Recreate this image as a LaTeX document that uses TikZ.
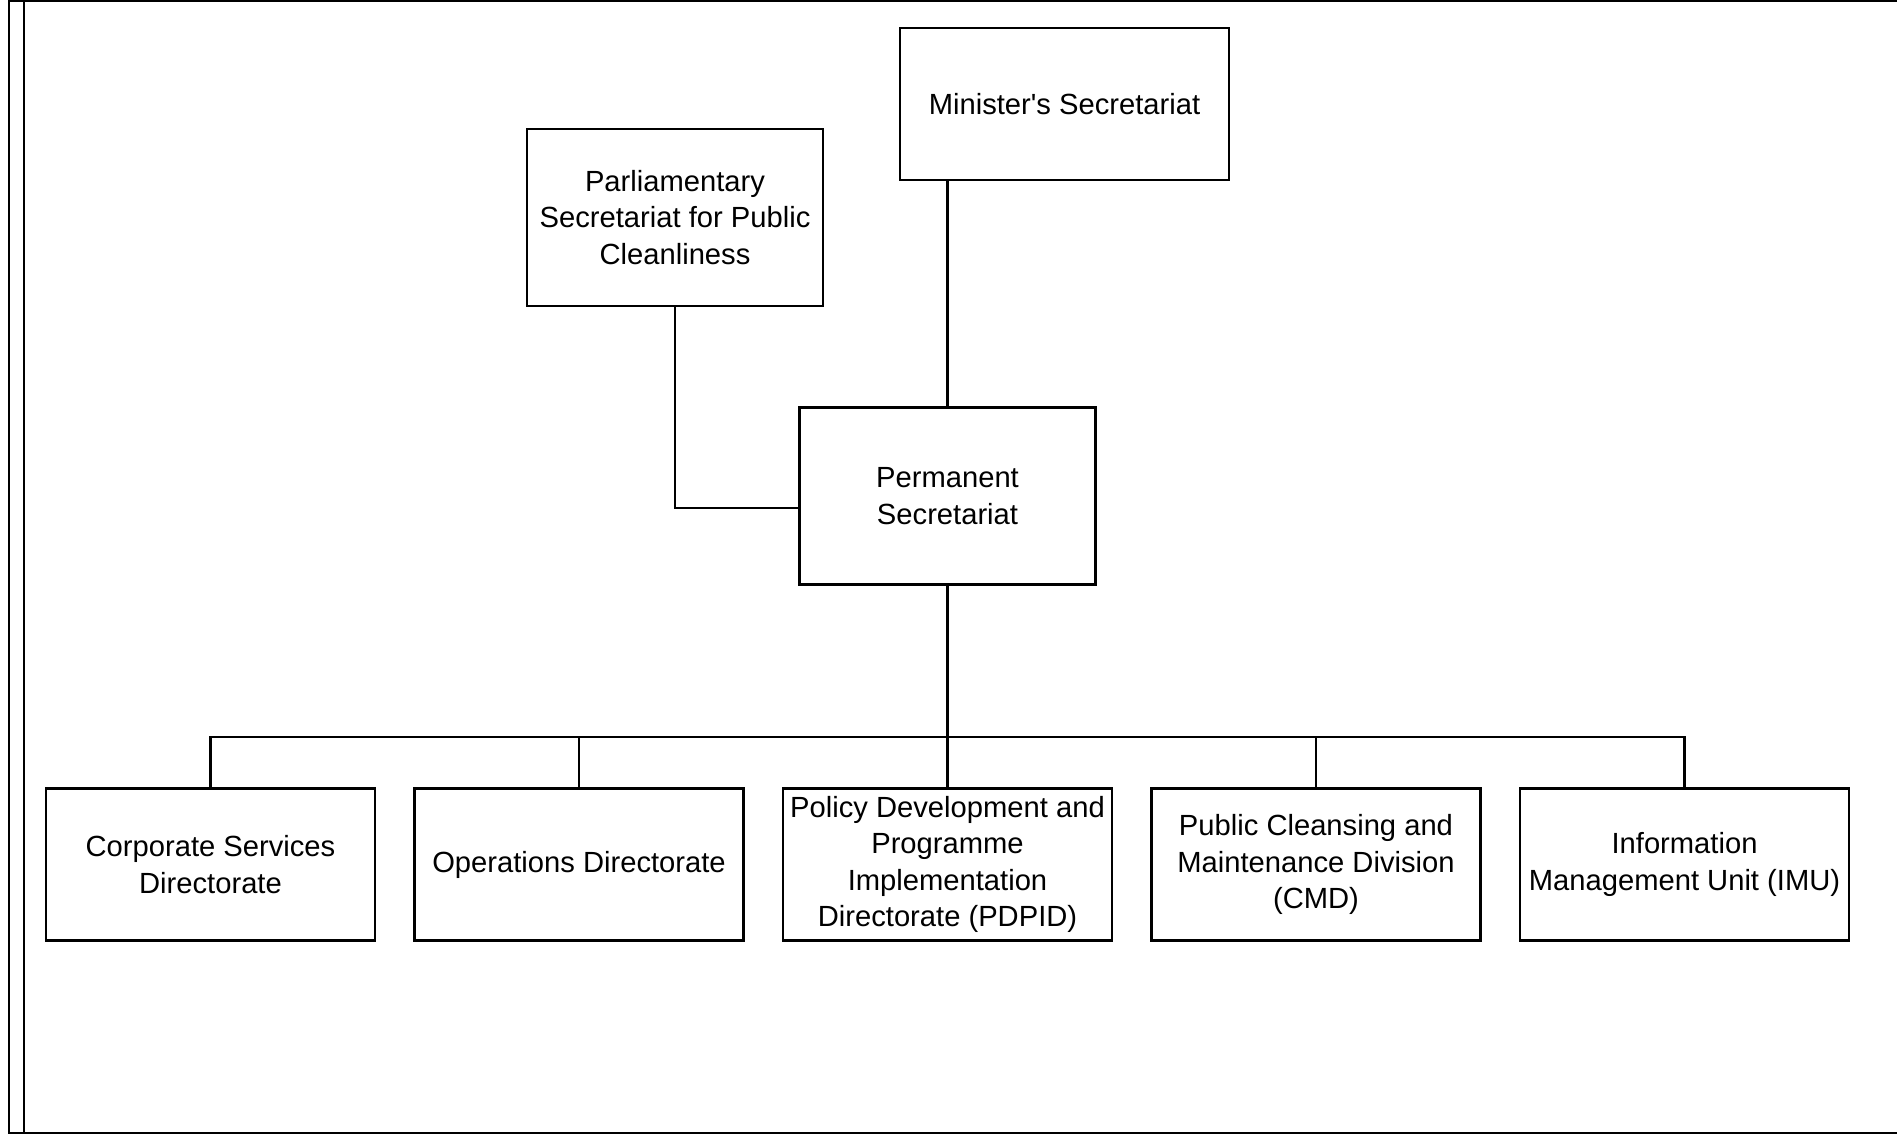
\documentclass[tikz,border=0pt]{standalone}
\usepackage{fontspec}
\setmainfont{Liberation Sans}

\begin{document}
\begin{tikzpicture}[node distance=3.685cm, line width=0.6pt,
    caja/.style={draw, rectangle, align=center, inner sep=0pt,
        minimum width=3.29cm, minimum height=1.52cm,
        font=\fontsize{8.3}{10.3}\selectfont},
    cajaalta/.style={caja, minimum width=2.96cm, minimum height=1.77cm}]

    % Marco de la hoja
    \useasboundingbox (0,0) rectangle (18.97,-11.34);
    \draw (18.97,-0.01) -- (0.09,-0.01) -- (0.09,-11.33) -- (18.97,-11.33);
    \draw (0.24,-0.01) -- (0.24,-11.33);

    % Nodos de la parte superior
    \node (minister) [caja] at (10.645,-1.04) {Minister\textquotesingle s Secretariat};
    \node (parl) [cajaalta] at (6.75,-2.175)
    {Parliamentary\\Secretariat for Public\\Cleanliness};
    \node (perm) [cajaalta] at (9.475,-4.96) {Permanent\\Secretariat};

    % Nodos de las direcciones
    \node (pdpid) [caja, below of=perm]
    {Policy Development and\\Programme\\Implementation\\Directorate (PDPID)};
    \node (ops) [caja, left of=pdpid] {Operations Directorate};
    \node (corp) [caja, left of=ops] {Corporate Services\\Directorate};
    \node (cmd) [caja, right of=pdpid]
    {Public Cleansing and\\Maintenance Division\\(CMD)};
    \node (imu) [caja, right of=cmd] {Information\\Management Unit (IMU)};

    % Conectar nodos con lineas
    \draw (perm.north) -- (perm.north |- minister.south);
    \draw (parl.south) |- ([yshift=-0.12cm]perm.west);
    \coordinate (bus) at ([yshift=-1.51cm]perm.south);
    \draw (perm.south) -- (bus);
    \foreach \d in {corp, ops, pdpid, cmd, imu}
        \draw (bus) -| (\d.north);

\end{tikzpicture}
\end{document}
